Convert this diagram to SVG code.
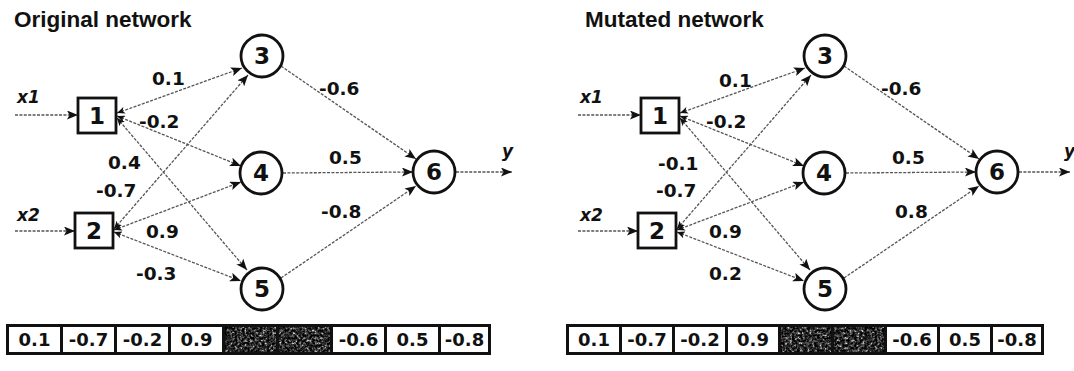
<svg xmlns="http://www.w3.org/2000/svg" width="1074" height="371" viewBox="0 0 1074 371">
  <defs>
    <style>
      .title { font-family: "Liberation Sans", Arial, sans-serif; font-weight: bold; font-size: 22.5px; fill: #111; }
      .w { font-family: "DejaVu Sans", sans-serif; font-weight: bold; font-size: 18.5px; fill: #111; }
      .io { font-family: "DejaVu Sans", sans-serif; font-weight: bold; font-style: italic; font-size: 17px; fill: #111; }
      .num { font-family: "DejaVu Sans", sans-serif; font-weight: bold; font-size: 23px; fill: #111; text-anchor: middle; }
      .cellt { font-family: "DejaVu Sans", sans-serif; font-weight: bold; font-size: 18px; fill: #111; text-anchor: middle; }
      .node { fill: #fff; stroke: #111; stroke-width: 2.8; }
      .edge { fill: none; stroke: #555; stroke-width: 1.3; stroke-dasharray: 3 1.4; marker-end: url(#arrow); }
      .out { marker-start: url(#wedge); }
      .bar { fill: #111; }
      .cell { fill: #fff; }
      .dark { fill: #111; filter: url(#grain); }
    </style>
    <marker id="arrow" markerUnits="userSpaceOnUse" markerWidth="12" markerHeight="10" refX="11" refY="4.5" orient="auto">
      <path d="M0,0 L11,4.5 L0,9 L2.5,4.5 z" fill="#111"/>
    </marker>
    <marker id="wedge" markerUnits="userSpaceOnUse" markerWidth="10" markerHeight="8" refX="0" refY="3.5" orient="auto">
      <path d="M0,3.5 L8,0 L6,3.5 L8,7 z" fill="#111"/>
    </marker>
    <!-- speckled fill for the two highlighted genes -->
    <filter id="grain" x="0" y="0" width="100%" height="100%">
      <feTurbulence type="fractalNoise" baseFrequency="0.4" numOctaves="3" seed="11" result="noise"/>
      <feColorMatrix in="noise" type="matrix" values="1 0 0 0 0  1 0 0 0 0  1 0 0 0 0  0 0 0 0 1" result="gray"/>
      <feComponentTransfer in="gray" result="speck">
        <feFuncR type="table" tableValues="0 0 0 0.02 0.12 0.65 0.9"/>
        <feFuncG type="table" tableValues="0 0 0 0.02 0.12 0.65 0.9"/>
        <feFuncB type="table" tableValues="0 0 0 0.02 0.12 0.65 0.9"/>
      </feComponentTransfer>
      <feComposite in="speck" in2="SourceGraphic" operator="in"/>
    </filter>
  </defs>

  <rect width="1074" height="371" fill="#fff"/>

  <!-- ===== Original network ===== -->
  <text class="title" x="14" y="27">Original network</text>

  <g id="orig-connectors">
    <line class="edge" x1="15" y1="115" x2="78" y2="115"/>
    <line class="edge" x1="15" y1="231" x2="75" y2="231"/>
    <line class="edge out" x1="117" y1="113" x2="242" y2="68"/>
    <line class="edge out" x1="117" y1="116" x2="241" y2="166"/>
    <line class="edge out" x1="117" y1="118" x2="247" y2="270"/>
    <line class="edge out" x1="114" y1="229" x2="248" y2="75"/>
    <line class="edge out" x1="114" y1="230" x2="241" y2="182"/>
    <line class="edge out" x1="114" y1="232" x2="241" y2="281"/>
    <line class="edge" x1="281" y1="66" x2="416" y2="159"/>
    <line class="edge" x1="283" y1="173" x2="413" y2="172"/>
    <line class="edge" x1="281" y1="278" x2="416" y2="186"/>
    <line class="edge" x1="456" y1="172" x2="512" y2="172"/>
  </g>

  <g id="orig-labels">
    <text class="io" x="17" y="103">x1</text>
    <text class="io" x="17" y="221">x2</text>
    <text class="io" x="502" y="157">y</text>
    <text class="w" x="152" y="85">0.1</text>
    <text class="w" x="139" y="128">-0.2</text>
    <text class="w" x="108" y="169">0.4</text>
    <text class="w" x="96" y="197">-0.7</text>
    <text class="w" x="146" y="238">0.9</text>
    <text class="w" x="136" y="280">-0.3</text>
    <text class="w" x="319" y="95">-0.6</text>
    <text class="w" x="329" y="164">0.5</text>
    <text class="w" x="321" y="218">-0.8</text>
  </g>

  <g id="orig-n1"><rect class="node" x="78" y="98" width="38" height="35"/><text class="num" x="97" y="124">1</text></g>
  <g id="orig-n2"><rect class="node" x="75" y="213" width="38" height="35"/><text class="num" x="94" y="239">2</text></g>
  <g id="orig-n3"><circle class="node" cx="262" cy="56" r="21"/><text class="num" x="262" y="64">3</text></g>
  <g id="orig-n4"><circle class="node" cx="261" cy="173" r="21"/><text class="num" x="261" y="181">4</text></g>
  <g id="orig-n5"><circle class="node" cx="262" cy="289" r="21"/><text class="num" x="262" y="297">5</text></g>
  <g id="orig-n6"><circle class="node" cx="434" cy="172" r="21"/><text class="num" x="434" y="180">6</text></g>

  <g id="orig-genome">
    <rect class="bar" x="6" y="324" width="485" height="31"/>
    <rect class="cell" x="9" y="327" width="51" height="25"/>
    <rect class="cell" x="63" y="327" width="51" height="25"/>
    <rect class="cell" x="117" y="327" width="51" height="25"/>
    <rect class="cell" x="171" y="327" width="51" height="25"/>
    <rect class="dark" x="225" y="327" width="51" height="25"/>
    <rect class="dark" x="279" y="327" width="51" height="25"/>
    <rect class="cell" x="333" y="327" width="51" height="25"/>
    <rect class="cell" x="387" y="327" width="51" height="25"/>
    <rect class="cell" x="441" y="327" width="47" height="25"/>
    <text class="cellt" x="34.5" y="346">0.1</text>
    <text class="cellt" x="88.5" y="346">-0.7</text>
    <text class="cellt" x="142.5" y="346">-0.2</text>
    <text class="cellt" x="196.5" y="346">0.9</text>
    <text class="cellt" x="358.5" y="346">-0.6</text>
    <text class="cellt" x="412.5" y="346">0.5</text>
    <text class="cellt" x="464.5" y="346">-0.8</text>
  </g>

  <!-- ===== Mutated network (same layout, shifted right) ===== -->
  <text class="title" x="585" y="27">Mutated network</text>

  <g transform="translate(563,0)">
    <g id="mut-connectors">
      <line class="edge" x1="15" y1="115" x2="78" y2="115"/>
      <line class="edge" x1="15" y1="231" x2="75" y2="231"/>
      <line class="edge out" x1="117" y1="113" x2="242" y2="68"/>
      <line class="edge out" x1="117" y1="116" x2="241" y2="166"/>
      <line class="edge out" x1="117" y1="118" x2="247" y2="270"/>
      <line class="edge out" x1="114" y1="229" x2="248" y2="75"/>
      <line class="edge out" x1="114" y1="230" x2="241" y2="182"/>
      <line class="edge out" x1="114" y1="232" x2="241" y2="281"/>
      <line class="edge" x1="281" y1="66" x2="416" y2="159"/>
      <line class="edge" x1="283" y1="173" x2="413" y2="172"/>
      <line class="edge" x1="281" y1="278" x2="416" y2="186"/>
      <line class="edge" x1="456" y1="172" x2="507" y2="172"/>
    </g>

    <g id="mut-labels">
      <text class="io" x="17" y="103">x1</text>
      <text class="io" x="17" y="221">x2</text>
      <text class="io" x="501" y="157">y</text>
      <text class="w" x="156" y="87">0.1</text>
      <text class="w" x="143" y="128">-0.2</text>
      <text class="w" x="95" y="170">-0.1</text>
      <text class="w" x="93" y="197">-0.7</text>
      <text class="w" x="146" y="238">0.9</text>
      <text class="w" x="146" y="280">0.2</text>
      <text class="w" x="318" y="95">-0.6</text>
      <text class="w" x="329" y="164">0.5</text>
      <text class="w" x="332" y="218">0.8</text>
    </g>

    <g id="mut-n1"><rect class="node" x="78" y="98" width="38" height="35"/><text class="num" x="97" y="124">1</text></g>
    <g id="mut-n2"><rect class="node" x="75" y="213" width="38" height="35"/><text class="num" x="94" y="239">2</text></g>
    <g id="mut-n3"><circle class="node" cx="262" cy="56" r="21"/><text class="num" x="262" y="64">3</text></g>
    <g id="mut-n4"><circle class="node" cx="261" cy="173" r="21"/><text class="num" x="261" y="181">4</text></g>
    <g id="mut-n5"><circle class="node" cx="262" cy="289" r="21"/><text class="num" x="262" y="297">5</text></g>
    <g id="mut-n6"><circle class="node" cx="434" cy="172" r="21"/><text class="num" x="434" y="180">6</text></g>
  </g>

  <g id="mut-genome">
    <rect class="bar" x="566" y="324" width="478" height="31"/>
    <rect class="cell" x="569" y="327" width="50" height="25"/>
    <rect class="cell" x="622" y="327" width="50" height="25"/>
    <rect class="cell" x="675" y="327" width="50" height="25"/>
    <rect class="cell" x="728" y="327" width="50" height="25"/>
    <rect class="dark" x="781" y="327" width="50" height="25"/>
    <rect class="dark" x="834" y="327" width="50" height="25"/>
    <rect class="cell" x="887" y="327" width="50" height="25"/>
    <rect class="cell" x="940" y="327" width="50" height="25"/>
    <rect class="cell" x="993" y="327" width="48" height="25"/>
    <text class="cellt" x="594" y="346">0.1</text>
    <text class="cellt" x="647" y="346">-0.7</text>
    <text class="cellt" x="700" y="346">-0.2</text>
    <text class="cellt" x="753" y="346">0.9</text>
    <text class="cellt" x="912" y="346">-0.6</text>
    <text class="cellt" x="965" y="346">0.5</text>
    <text class="cellt" x="1017" y="346">-0.8</text>
  </g>
</svg>
